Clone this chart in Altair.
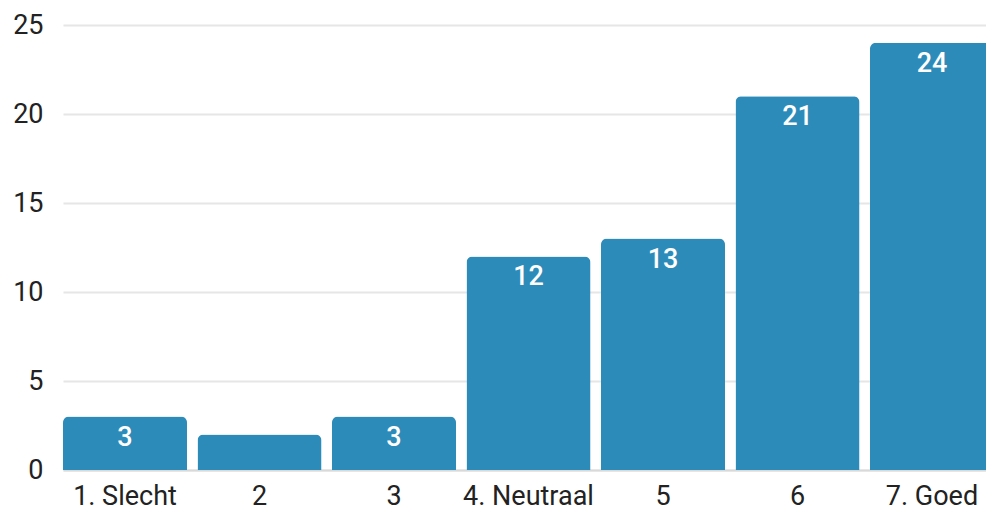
import altair as alt
import pandas as pd

# Ratings on a 7-point scale and the number of responses for each
categories = ["1. Slecht", "2", "3", "4. Neutraal", "5", "6", "7. Goed"]
counts = [3, 2, 3, 12, 13, 21, 24]

df = pd.DataFrame({"rating": categories, "count": counts})

BAR_COLOR = "#2d8bba"
FONT = "Roboto"
TEXT_COLOR = "#222222"

# The band range runs a little past the plot width, so the last bar is cut off at the edge
x = alt.X(
    "rating:N",
    sort=categories,
    title=None,
    scale=alt.Scale(paddingInner=0.078, paddingOuter=0, range=[0, 931]),
    axis=alt.Axis(
        labelAngle=0,
        labelFont=FONT,
        labelFontSize=27,
        labelColor=TEXT_COLOR,
        labelPadding=13,
        ticks=False,
        domainColor="#d9d9d9",
        domainWidth=2,
    ),
)
y = alt.Y(
    "count:Q",
    title=None,
    scale=alt.Scale(domain=[0, 25], nice=False),
    axis=alt.Axis(
        values=[0, 5, 10, 15, 20, 25],
        labelFont=FONT,
        labelFontSize=27,
        labelColor=TEXT_COLOR,
        labelPadding=20,
        ticks=False,
        domain=False,
        gridColor="#e6e6e6",
        gridWidth=2,
    ),
)

bars = alt.Chart(df).mark_bar(
    color=BAR_COLOR,
    cornerRadiusTopLeft=6,
    cornerRadiusTopRight=6,
).encode(x=x, y=y)

# Value labels inside the bar tops; the shortest bar is left unlabelled
labels = (
    alt.Chart(df)
    .transform_filter("datum.count >= 3")
    .mark_text(
        font=FONT,
        fontSize=27,
        fontWeight=500,
        color="white",
        baseline="middle",
        dy=21,
    )
    .encode(x=x, y=y, text="count:Q")
)

chart = (
    alt.layer(bars, labels)
    .properties(
        width=923,
        height=445,
        autosize=alt.AutoSizeParams(type="none"),
        padding={"left": 63, "top": 25, "right": 0, "bottom": 42},
        background="white",
    )
    .configure_view(stroke=None)
)

chart.save("out.html", embed_options={"renderer": "svg", "actions": False})
